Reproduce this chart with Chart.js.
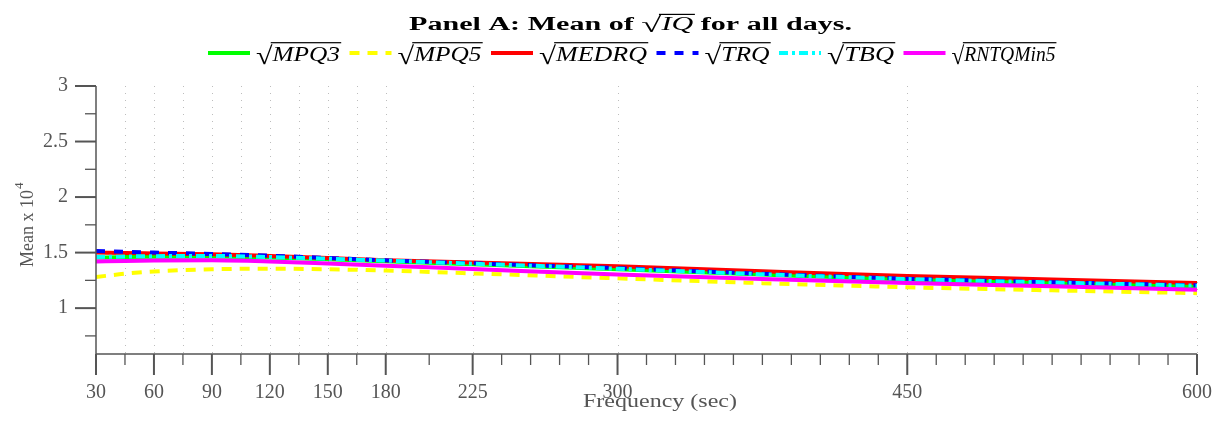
<!DOCTYPE html>
<html>
<head>
<meta charset="utf-8">
<script src="https://cdn.jsdelivr.net/npm/chart.js@4"></script>
<style>
  html, body { margin: 0; padding: 0; background: #fff; }
  #wrap { width: 1217px; height: 421px; }
</style>
</head>
<body>
<div id="wrap"><canvas id="chart" width="1217" height="421"></canvas></div>
<script>
// sampling frequency (sec) and mean values (x 10^4)
const freq  = [30, 45, 60, 90, 120, 150, 180, 225, 300, 375, 450, 525, 600];
const mpq3  = [1.455, 1.460, 1.463, 1.465, 1.455, 1.440, 1.423, 1.395, 1.350, 1.302, 1.258, 1.226, 1.196];
const mpq5  = [1.280, 1.310, 1.330, 1.350, 1.355, 1.350, 1.338, 1.313, 1.268, 1.225, 1.188, 1.160, 1.135];
const medrq = [1.500, 1.497, 1.493, 1.485, 1.470, 1.452, 1.432, 1.410, 1.377, 1.332, 1.290, 1.258, 1.226];
const trq   = [1.515, 1.507, 1.500, 1.488, 1.472, 1.452, 1.430, 1.404, 1.360, 1.310, 1.265, 1.234, 1.205];
const tbq   = [1.460, 1.465, 1.468, 1.470, 1.460, 1.445, 1.428, 1.400, 1.355, 1.305, 1.262, 1.231, 1.202];
const rntq  = [1.420, 1.425, 1.428, 1.430, 1.420, 1.402, 1.382, 1.352, 1.302, 1.262, 1.226, 1.196, 1.166];

const seriesNames = ['MPQ3', 'MPQ5', 'MEDRQ', 'TRQ', 'TBQ', 'RNTQMin5'];

// axis ticks
const xMajorTicks = [30, 60, 90, 120, 150, 180, 225, 300, 450, 600];
const xMinorTicks = [45, 75, 105, 135, 165, 202.5, 240, 255, 270, 285, 315, 330, 345, 360, 375, 390,
  405, 420, 435, 465, 480, 495, 510, 525, 540, 555, 570, 585];
const xGridLines = [45, 60, 75, 90, 105, 120, 135, 150, 165, 180, 225, 300, 450, 600];
const yMajorTicks = [1, 1.5, 2, 2.5, 3];
const yMinorTicks = [0.75, 1.25, 1.75, 2.25, 2.75];

const AXIS = '#555';
const SERIF = "'Liberation Serif', 'DejaVu Serif', serif";

function pts(vals) {
  return vals.map((v, i) => ({ x: freq[i], y: v }));
}

function line(name, vals, color, dash, order) {
  return {
    label: name,
    data: pts(vals),
    borderColor: color,
    backgroundColor: color,
    borderWidth: 4,
    borderDash: dash,
    borderCapStyle: 'butt',
    pointRadius: 0,
    cubicInterpolationMode: 'monotone',
    fill: false,
    order: order
  };
}

// text runs, optionally stretched to a target width
function drawRuns(ctx, runs, x, baseline, targetW, color) {
  let natural = 0;
  runs.forEach(r => { ctx.font = r.font; r.w = ctx.measureText(r.t).width; natural += r.w; });
  const sx = targetW ? targetW / natural : 1;
  ctx.save();
  ctx.translate(x, baseline);
  ctx.scale(sx, 1);
  ctx.fillStyle = color;
  ctx.textAlign = 'left';
  ctx.textBaseline = 'alphabetic';
  let cx = 0;
  runs.forEach(r => {
    ctx.font = r.font;
    ctx.fillText(r.t, cx, r.dy || 0);
    if (r.bar) ctx.fillRect(cx - 1.5, -r.bar, r.w + 2.5, 1.2);
    cx += r.w;
  });
  ctx.restore();
}

function sqrtRuns(text, size) {
  return [
    { t: '\u221A', font: `${Math.round(size * 1.2)}px ${SERIF}`, dy: size * 0.12 },
    { t: text, font: `italic ${size}px ${SERIF}`, bar: size * 0.9 }
  ];
}

const decor = {
  id: 'decor',
  beforeDatasetsDraw(chart) {
    const { ctx, chartArea: a, scales: { x } } = chart;
    ctx.save();
    ctx.strokeStyle = '#bdbdbd';
    ctx.lineWidth = 1;
    ctx.setLineDash([1, 6]);
    xGridLines.forEach(v => {
      const px = Math.round(x.getPixelForValue(v)) + 0.5;
      ctx.beginPath();
      ctx.moveTo(px, a.top);
      ctx.lineTo(px, a.bottom);
      ctx.stroke();
    });
    ctx.restore();
  },
  afterDatasetsDraw(chart) {
    const { ctx, chartArea: a, scales: { x, y } } = chart;
    ctx.save();
    ctx.strokeStyle = AXIS;
    ctx.lineWidth = 1.5;
    ctx.beginPath();
    ctx.moveTo(a.left, a.top);
    ctx.lineTo(a.left, a.bottom);
    ctx.lineTo(a.right, a.bottom);
    ctx.stroke();
    const tick = (x1, y1, x2, y2, w) => {
      ctx.lineWidth = w;
      ctx.beginPath(); ctx.moveTo(x1, y1); ctx.lineTo(x2, y2); ctx.stroke();
    };
    yMajorTicks.forEach(v => { const p = y.getPixelForValue(v); tick(a.left - 21, p, a.left, p, 2); });
    yMinorTicks.forEach(v => { const p = y.getPixelForValue(v); tick(a.left - 11, p, a.left, p, 1.3); });
    xMajorTicks.forEach(v => { const p = x.getPixelForValue(v); tick(p, a.bottom, p, a.bottom + 21, 2); });
    xMinorTicks.forEach(v => { const p = x.getPixelForValue(v); tick(p, a.bottom, p, a.bottom + 11, 1.3); });
    ctx.restore();
  },
  afterDraw(chart) {
    const ctx = chart.ctx;
    // title
    drawRuns(ctx, [
      { t: 'Panel A: Mean of ', font: `bold 18px ${SERIF}` },
      ...sqrtRuns('IQ', 18),
      { t: ' for all days.', font: `bold 18px ${SERIF}` }
    ], 409, 30, 443, '#000');

    // legend
    const labelW = [84, 84, 108, 65, 67, 104];
    let lx = 208;
    chart.data.datasets.forEach((ds, i) => {
      ctx.save();
      ctx.strokeStyle = ds.borderColor;
      ctx.lineWidth = 4;
      ctx.setLineDash(ds.borderDash || []);
      ctx.beginPath();
      ctx.moveTo(lx, 53);
      ctx.lineTo(lx + 42, 53);
      ctx.stroke();
      ctx.restore();
      drawRuns(ctx, sqrtRuns(seriesNames[i], 21), lx + 48, 61, labelW[i], '#000');
      lx += 48 + labelW[i] + 9.5;
    });

    // y axis title
    ctx.save();
    ctx.translate(33, 267);
    ctx.rotate(-Math.PI / 2);
    ctx.fillStyle = AXIS;
    ctx.font = `18px ${SERIF}`;
    ctx.textBaseline = 'alphabetic';
    ctx.fillText('Mean x 10', 0, 0);
    const w = ctx.measureText('Mean x 10').width;
    ctx.font = `13px ${SERIF}`;
    ctx.fillText('4', w + 1, -10);
    ctx.restore();

    // x axis title
    drawRuns(ctx, [{ t: 'Frequency (sec)', font: `18px ${SERIF}` }], 583, 407, 154, AXIS);
  }
};

const chart = new Chart(document.getElementById('chart').getContext('2d'), {
  type: 'line',
  data: {
    datasets: [
      line('MPQ3', mpq3, '#00ff00', [], 6),
      line('MPQ5', mpq5, '#ffff00', [10, 8], 5),
      line('MEDRQ', medrq, '#ff0000', [], 4),
      line('TRQ', trq, '#0000ff', [9, 9], 3),
      line('TBQ', tbq, '#00ffff', [9, 4, 3, 4], 2),
      line('RNTQMin5', rntq, '#ff00ff', [], 1)
    ]
  },
  options: {
    responsive: false,
    animation: false,
    layout: { padding: { top: 86, right: 20, left: 0, bottom: 0 } },
    plugins: {
      legend: { display: false },
      title: { display: false },
      tooltip: { enabled: false }
    },
    scales: {
      x: {
        type: 'linear',
        min: 30,
        max: 600,
        afterBuildTicks: scale => { scale.ticks = xMajorTicks.map(v => ({ value: v })); },
        afterFit: scale => {
          scale.height = 67;
          scale.paddingLeft = 0;
          scale.paddingRight = 0;
        },
        grid: { display: false, drawTicks: false },
        border: { display: false },
        ticks: {
          autoSkip: false,
          maxRotation: 0,
          padding: 27,
          color: AXIS,
          font: { family: SERIF, size: 20 },
          callback: v => String(v)
        }
      },
      y: {
        min: 0.587,
        max: 3,
        afterBuildTicks: scale => { scale.ticks = yMajorTicks.map(v => ({ value: v })); },
        afterFit: scale => {
          scale.width = 96;
          scale.paddingTop = 0;
          scale.paddingBottom = 0;
        },
        grid: { display: false, drawTicks: false },
        border: { display: false },
        ticks: {
          padding: 28,
          color: AXIS,
          font: { family: SERIF, size: 20 },
          callback: v => String(v)
        }
      }
    }
  },
  plugins: [decor]
});
</script>
</body>
</html>
